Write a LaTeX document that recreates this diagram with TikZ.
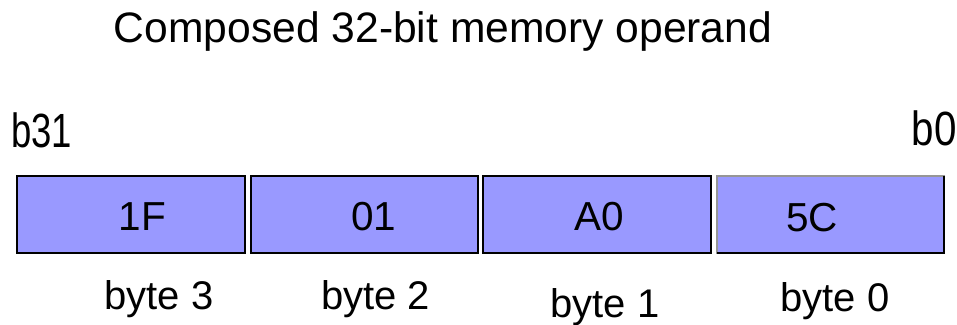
\documentclass[tikz,border=0pt]{standalone}
\usepackage{fontspec}
\setmainfont{Liberation Sans}
\newfontfamily\narrowsans[FakeStretch=0.84]{Liberation Sans}
\newfontfamily\narrowersans[FakeStretch=0.76]{Liberation Sans}
\definecolor{boxfill}{RGB}{153,153,255}
\definecolor{edgegray}{RGB}{150,150,150}
\begin{document}
\begin{tikzpicture}[x=1pt,y=-1pt,
  bytebox/.style={draw=black,line width=2pt,fill=boxfill},
  lbl/.style={inner sep=0pt,anchor=base,text=black},
  titlefont/.style={font=\fontsize{42.6}{50}\selectfont},
  valfont/.style={font=\fontsize{40.5}{48}\selectfont},
  bytefont/.style={font=\fontsize{40}{48}\selectfont}]
\useasboundingbox (0,0) rectangle (957,324);
% boxes
\path[bytebox] (17,176) rectangle (245,253);
\path[bytebox] (251,176) rectangle (478,253);
\path[bytebox] (483,176) rectangle (711,253);
\path[fill=boxfill,draw=edgegray,line width=2pt] (717,176) rectangle (944,253);
\draw[black,line width=2pt] (717,253) -- (944,253) -- (944,176);
\node[inner sep=0pt,minimum width=228pt,minimum height=77pt] (box3) at (131,214.5) {};
\node[inner sep=0pt,minimum width=227pt,minimum height=77pt] (box2) at (364.5,214.5) {};
\node[inner sep=0pt,minimum width=228pt,minimum height=77pt] (box1) at (597,214.5) {};
\node[inner sep=0pt,minimum width=227pt,minimum height=77pt] (box0) at (830.5,214.5) {};
% title
\node[lbl,titlefont] (title) at (443,42.5) {Composed 32-bit memory operand};
% bit labels
\node[lbl,font=\narrowersans\fontsize{48}{56}\selectfont,anchor=base west] (b31) at (11,147) {b31};
\node[lbl,font=\narrowsans\fontsize{48}{56}\selectfont,anchor=base east] (b0) at (957,145) {b0};
% values
\node[lbl,valfont] (v3) at (142.5,230) {1F};
\node[lbl,valfont] (v2) at (374,230) {01};
\node[lbl,valfont] (v1) at (599,230) {A0};
\node[lbl,valfont] (v0) at (812,231) {5C};
% byte labels
\node[lbl,bytefont] (l3) at (159,309) {byte 3};
\node[lbl,bytefont] (l2) at (375.5,309) {byte 2};
\node[lbl,bytefont] (l1) at (605,317) {byte 1};
\node[lbl,bytefont] (l0) at (835,311) {byte 0};
\end{tikzpicture}
\end{document}
